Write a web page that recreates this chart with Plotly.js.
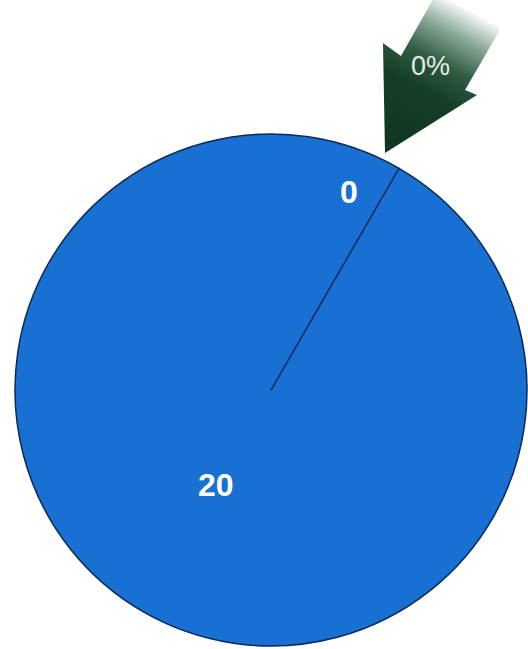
<!DOCTYPE html>
<html><head><meta charset="utf-8">
<script src="https://cdn.plot.ly/plotly-3.0.1.min.js"></script>
<style>html,body{margin:0;padding:0;background:#fff}</style>
</head><body><div id="chart" style="width:528px;height:649px"></div>
<script>
const labels = ["B", "A"];
const values = [20, 0];
const changeLabel = "0%";

const W = 528, H = 649;
const cx = 271, cy = 390, R = 256;
const rotation = 30;

const total = values.reduce((a, b) => a + b, 0);

const arrowSvg = `<svg xmlns="http://www.w3.org/2000/svg" width="${W}" height="${H}" viewBox="0 0 ${W} ${H}">
<defs><linearGradient id="g" gradientUnits="userSpaceOnUse" x1="385" y1="153" x2="468" y2="-2">
<stop offset="0" stop-color="#0f3520"/><stop offset="0.42" stop-color="#163e27"/>
<stop offset="0.6" stop-color="#2f5c43"/><stop offset="0.78" stop-color="#88a796"/><stop offset="0.95" stop-color="#ffffff"/></linearGradient></defs>
<path d="M385,153 L383,43 L401,56 L436,-6 L501,28 L465,90 L477,95 Z" fill="url(#g)"/>
</svg>`;

function polar(angDeg, frac) {
  const a = angDeg * Math.PI / 180;
  return { x: (cx + Math.sin(a) * R * frac) / W, y: 1 - (cy - Math.cos(a) * R * frac) / H };
}

// label angles derived from data
const angZero = rotation + 360 * values[0] / total;          // boundary of the zero slice
const angBig = rotation + 360 * values[0] / total / 2;         // middle of the big slice
const pSmall = polar(angZero - 8.5, 0.83);
const pBig = polar(angBig, 0.43);

const ann = (text, p, font) => ({ text: text, x: p.x, y: p.y, xref: "paper", yref: "paper",
  xanchor: "center", yanchor: "middle", showarrow: false, font: font });

const data = [{
  type: "pie",
  labels: labels,
  values: values,
  sort: false,
  direction: "clockwise",
  rotation: rotation,
  textinfo: "none",
  hoverinfo: "none",
  marker: { colors: ["#1870d2", "#1870d2"], line: { color: "#0b2a55", width: 1.5 } },
  domain: { x: [(cx - R) / W, (cx + R) / W], y: [1 - (cy + R) / H, 1 - (cy - R) / H] },
  showlegend: false
}];

const labelFont = { family: "Liberation Sans, Arial, sans-serif", size: 32, color: "#ffffff", weight: "bold" };

const layout = {
  width: W, height: H,
  margin: { l: 0, r: 0, t: 0, b: 0 },
  paper_bgcolor: "#ffffff",
  images: [{ source: "data:image/svg+xml;charset=utf-8," + encodeURIComponent(arrowSvg),
    xref: "paper", yref: "paper", x: 0, y: 1, sizex: 1, sizey: 1, sizing: "stretch",
    xanchor: "left", yanchor: "top", layer: "above" }],
  annotations: [
    ann(String(values[1]), pSmall, labelFont),
    ann(String(values[0]), pBig, labelFont),
    ann(changeLabel, { x: 430 / W, y: 1 - 66 / H },
      { family: "Liberation Sans, Arial, sans-serif", size: 27, color: "#e3ece5" })
  ]
};

Plotly.newPlot("chart", data, layout, { displayModeBar: false, staticPlot: true });
</script></body></html>
